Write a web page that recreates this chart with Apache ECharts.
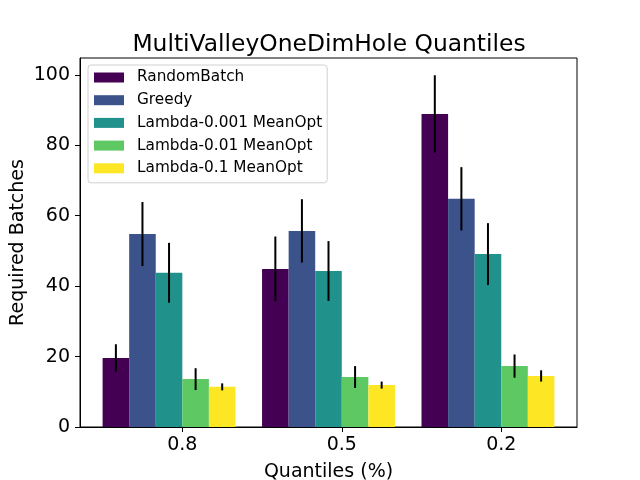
<!DOCTYPE html>
<html>
<head>
<meta charset="utf-8">
<script src="https://cdn.jsdelivr.net/npm/echarts@6/dist/echarts.min.js"></script>
<style>
  html, body { margin: 0; padding: 0; background: #fff; }
  #chart { width: 640px; height: 480px; }
</style>
</head>
<body>
<div id="chart"></div>
<script>
// categories on the x axis
const quantiles = ['0.8', '0.5', '0.2'];
const methods = ['RandomBatch', 'Greedy', 'Lambda-0.001 MeanOpt', 'Lambda-0.01 MeanOpt', 'Lambda-0.1 MeanOpt'];

// mean required batches per quantile
const randomBatch = [19.6, 44.9, 88.9];
const greedy = [54.8, 55.7, 64.8];
const lambda001 = [43.8, 44.3, 49.1];
const lambda01 = [13.6, 14.2, 17.3];
const lambda1 = [11.4, 11.9, 14.5];

// error bar half-lengths
const randomBatchErr = [3.9, 9.2, 11.0];
const greedyErr = [9.1, 9.0, 9.0];
const lambda001Err = [8.5, 8.5, 8.8];
const lambda01Err = [3.1, 3.1, 3.3];
const lambda1Err = [1.0, 1.0, 1.6];

const yTicks = [0, 20, 40, 60, 80, 100];

const values = [randomBatch, greedy, lambda001, lambda01, lambda1];
const errors = [randomBatchErr, greedyErr, lambda001Err, lambda01Err, lambda1Err];
const colors = ['#440154', '#3b528b', '#21918c', '#5ec962', '#fde725'];
const barW = 1 / 6;
const font = 'DejaVu Sans';

const chart = echarts.init(document.getElementById('chart'));

const series = methods.map((name, k) => ({
  name: name,
  type: 'custom',
  itemStyle: { color: colors[k] },
  // bar k of group i is centred at i + (k - 2.5) * width
  data: quantiles.map((q, i) => [i + (k - 2.5) * barW, values[k][i], errors[k][i]]),
  renderItem: (params, api) => {
    const x = api.value(0), v = api.value(1), e = api.value(2);
    const tl = api.coord([x - barW / 2, v]);
    const br = api.coord([x + barW / 2, 0]);
    const eTop = api.coord([x, v + e]);
    const eBot = api.coord([x, v - e]);
    return {
      type: 'group',
      children: [
        { type: 'rect', shape: { x: tl[0], y: tl[1], width: br[0] - tl[0], height: br[1] - tl[1] }, style: { fill: colors[k] } },
        { type: 'line', shape: { x1: eTop[0], y1: eTop[1], x2: eBot[0], y2: eBot[1] }, style: { stroke: '#000', lineWidth: 2 } }
      ]
    };
  }
}));

const option = {
  animation: false,
  title: {
    text: 'MultiValleyOneDimHole Quantiles',
    left: 324,
    top: 28,
    textAlign: 'center',
    textStyle: { fontFamily: font, fontSize: 23.4, fontWeight: 'normal', color: '#000' }
  },
  legend: {
    orient: 'vertical',
    left: 88,
    top: 65,
    icon: 'rect',
    itemWidth: 30,
    itemHeight: 10,
    itemGap: 7.7,
    padding: [5, 5, 7, 6],
    borderColor: '#d0d0d0',
    borderWidth: 1,
    borderRadius: 3,
    backgroundColor: 'rgba(255,255,255,0.8)',
    textStyle: { fontFamily: font, fontSize: 15.3, lineHeight: 15, color: '#000', padding: [0, 0, 0, 8] },
    data: methods
  },
  grid: {
    left: 80, right: 63, top: 58, bottom: 53,
    outerBoundsMode: 'none', containLabel: false,
    show: true, borderColor: '#000', borderWidth: 1
  },
  xAxis: {
    type: 'value',
    min: -0.6417,
    max: 2.475,
    name: 'Quantiles (%)',
    nameLocation: 'middle',
    nameGap: 36,
    nameMoveOverlap: false,
    nameTextStyle: { fontFamily: font, fontSize: 19, color: '#000' },
    axisLine: { show: true, onZero: false, lineStyle: { color: '#000' } },
    axisTick: { show: true, length: 5, customValues: [0, 1, 2], lineStyle: { color: '#000' } },
    axisLabel: {
      customValues: [0, 1, 2],
      formatter: v => quantiles[Math.round(v)],
      margin: 9,
      fontFamily: font, fontSize: 19, color: '#000'
    },
    splitLine: { show: false }
  },
  yAxis: {
    type: 'value',
    min: 0,
    max: 104.8,
    name: 'Required Batches',
    nameLocation: 'middle',
    nameGap: 52,
    nameMoveOverlap: false,
    nameTextStyle: { fontFamily: font, fontSize: 19, color: '#000' },
    axisLine: { show: true, onZero: false, lineStyle: { color: '#000' } },
    axisTick: { show: true, length: 5, customValues: yTicks, lineStyle: { color: '#000' } },
    axisLabel: { customValues: yTicks, margin: 10, fontFamily: font, fontSize: 19, color: '#000' },
    splitLine: { show: false }
  },
  series: series
};

chart.setOption(option);
</script>
</body>
</html>
